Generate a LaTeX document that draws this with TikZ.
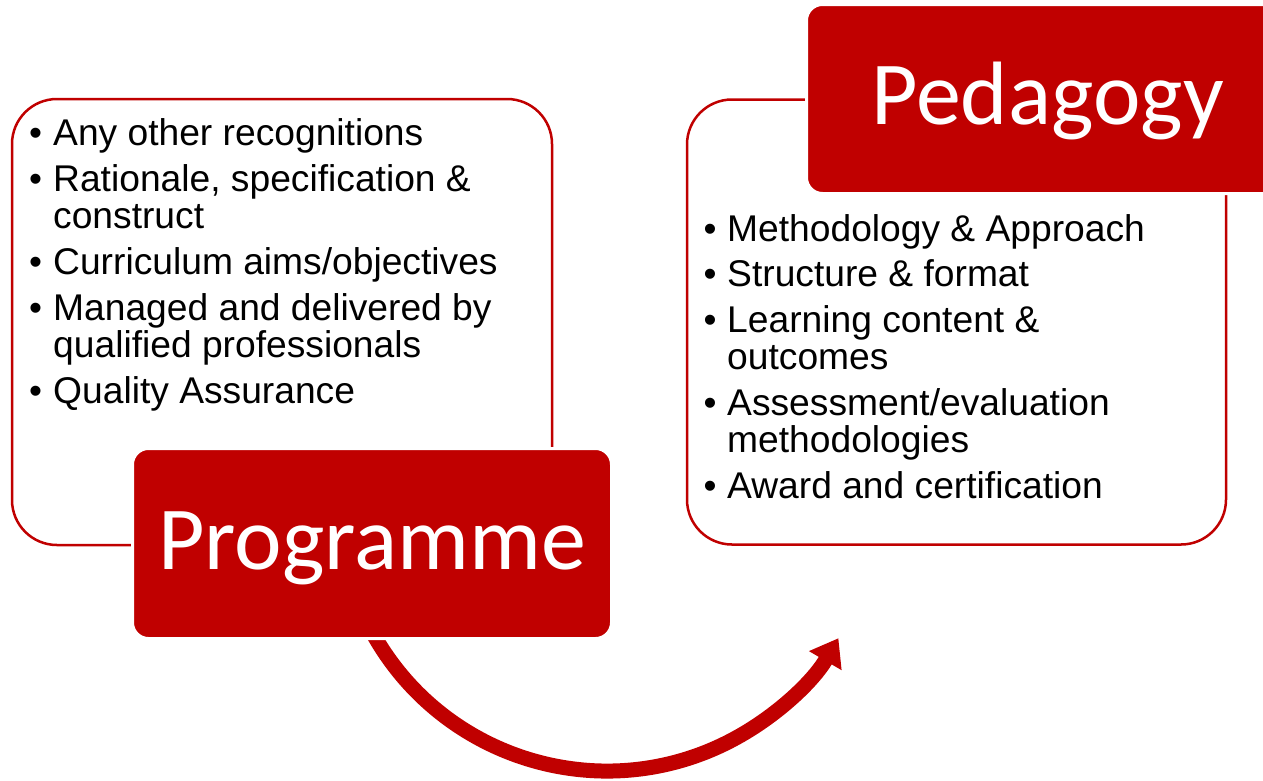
\documentclass[tikz,border=0pt]{standalone}
\usepackage{fontspec}
\setmainfont{Liberation Sans}
\newfontfamily\carlito{Carlito}
\usetikzlibrary{arrows.meta}
\definecolor{dred}{HTML}{C00000}
\tikzset{
  outerbox/.style={draw=dred, line width=2.5pt, fill=white, rounded corners=45pt, inner sep=0pt},
  titlebox/.style={draw=white, line width=3pt, fill=dred, rounded corners=16pt, inner sep=0pt},
  titletext/.style={text=white, inner sep=0pt, anchor=base, font=\carlito\fontsize{90}{90}\selectfont},
  itemtext/.style={inner sep=0pt, anchor=base west, font=\fontsize{37.2}{37}\selectfont},
  bullet/.style={inner sep=0pt, anchor=base, font=\fontsize{37}{37}\selectfont},
  curvedarrow/.style={draw=dred, line width=15pt, -{Triangle[width=36pt,length=26pt]}}
}
\begin{document}
\begin{tikzpicture}[x=1pt,y=-1pt]
\useasboundingbox (0,0) rectangle (1263,780);
% outer boxes
\node[outerbox, minimum width=540pt, minimum height=446pt] (leftbox) at (282,322) {};
\node[outerbox, minimum width=539pt, minimum height=445pt] (rightbox) at (956.5,322) {};
% left items
\node[bullet] (lb1) at (35.5,145) {•};
\node[itemtext] (lt1) at (53,145) {Any other recognitions};
\node[bullet] (lb2) at (35.5,191) {•};
\node[itemtext] (lt2) at (53,191) {Rationale, specification \&};
\node[itemtext] (lt3) at (53,228) {construct};
\node[bullet] (lb3) at (35.5,274) {•};
\node[itemtext] (lt4) at (53,274) {Curriculum aims/objectives};
\node[bullet] (lb4) at (35.5,320) {•};
\node[itemtext] (lt5) at (53,320) {Managed and delivered by};
\node[itemtext] (lt6) at (53,357) {qualified professionals};
\node[bullet] (lb5) at (35.5,403) {•};
\node[itemtext] (lt7) at (53,403) {Quality Assurance};
% right items
\node[bullet] (rb1) at (710,241) {•};
\node[itemtext] (rt1) at (727,241) {Methodology \& Approach};
\node[bullet] (rb2) at (710,286) {•};
\node[itemtext] (rt2) at (727,286) {Structure \& format};
\node[bullet] (rb3) at (710,332) {•};
\node[itemtext] (rt3) at (727,332) {Learning content \&};
\node[itemtext] (rt4) at (727,369) {outcomes};
\node[bullet] (rb4) at (710,415) {•};
\node[itemtext] (rt5) at (727,415) {Assessment/evaluation};
\node[itemtext] (rt6) at (727,452) {methodologies};
\node[bullet] (rb5) at (710,498) {•};
\node[itemtext] (rt7) at (727,498) {Award and certification};
% curved arrow
\coordinate (arcc) at (607,503);
\draw[curvedarrow] (arcc) ++(152:268) arc[start angle=152, end angle=30.3, radius=268];
% title boxes
\node[titlebox, minimum width=479pt, minimum height=190pt] (prog) at (372,543.5) {};
\node[titletext] (progt) at (372,569) {Programme};
\node[titlebox, minimum width=482pt, minimum height=189pt] (peda) at (1047.5,99) {};
\node[titletext] (pedat) at (1047.5,124.5) {Pedagogy};
\end{tikzpicture}
\end{document}
